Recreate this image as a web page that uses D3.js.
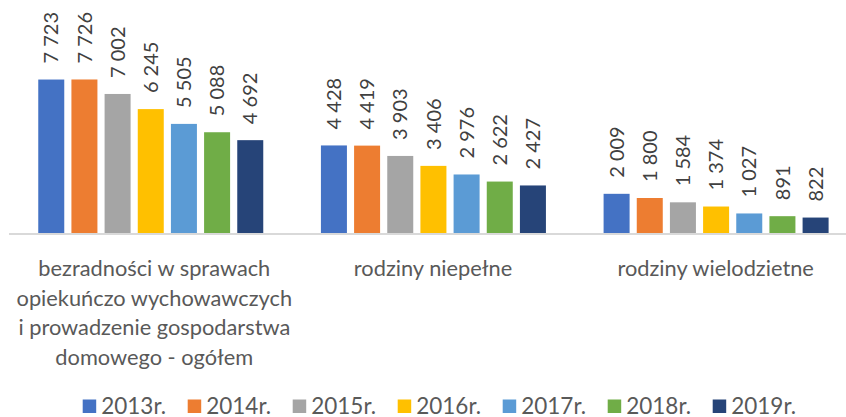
<!DOCTYPE html>
<html>
<head>
<meta charset="utf-8">
<script src="https://cdn.jsdelivr.net/npm/d3@7"></script>
<style>
  body { margin: 0; background: #fff; }
  svg { display: block; font-family: Lato, "Open Sans", sans-serif; }
</style>
</head>
<body>
<div id="chart"></div>
<script>
// categories (each one split in lines like in the original)
const categories = [
    ['bezradności w sprawach', 'opiekuńczo wychowawczych', 'i prowadzenie gospodarstwa', 'domowego - ogółem'],
    ['rodziny niepełne'],
    ['rodziny wielodzietne']
];
const years = ['2013r.', '2014r.', '2015r.', '2016r.', '2017r.', '2018r.', '2019r.'];
const colors = ['#4472C4', '#ED7D31', '#A5A5A5', '#FFC000', '#5B9BD5', '#70AD47', '#264478'];

// one array per category, one value per year
const bezradnosc = [7723, 7726, 7002, 6245, 5505, 5088, 4692];
const niepelne = [4428, 4419, 3903, 3406, 2976, 2622, 2427];
const wielodzietne = [2009, 1800, 1584, 1374, 1027, 891, 822];
const values = [bezradnosc, niepelne, wielodzietne];

const width = 846;
const height = 417;

const svg = d3.select('#chart')
    .append('svg')
        .attr('viewBox', [0, 0, width, height])
        .attr('width', width)
        .attr('height', height);

// outer scale for the categories
const x0 = d3.scaleBand()
    .domain(d3.range(categories.length))
    .range([9, 857])
    .padding(0);

// inner scale for the years inside one category
const x1 = d3.scaleBand()
    .domain(years)
    .range([x0.bandwidth() * 0.1035, x0.bandwidth() * 0.8995])
    .paddingInner(0.216)
    .paddingOuter(0);

const y = d3.scaleLinear()
    .domain([0, 9000])
    .range([234, 54]);

const fmt = v => d3.format(',')(v).replace(/,/g, ' ');

// bars
const groups = svg.append('g')
    .selectAll('g')
    .data(values)
    .join('g')
        .attr('transform', (d, i) => `translate(${x0(i)},0)`);

groups.selectAll('rect')
    .data(d => d.map((v, j) => ({ v: v, year: years[j], c: colors[j] })))
    .join('rect')
        .attr('x', d => x1(d.year))
        .attr('y', d => y(d.v))
        .attr('width', x1.bandwidth())
        .attr('height', d => y(0) - y(d.v))
        .attr('fill', d => d.c);

// rotated value labels
groups.selectAll('text')
    .data(d => d.map((v, j) => ({ v: v, year: years[j] })))
    .join('text')
        .attr('transform', d => `translate(${x1(d.year) + x1.bandwidth() / 2},${y(d.v) - 16}) rotate(-90)`)
        .attr('dy', '0.36em')
        .attr('fill', '#404040')
        .style('font-size', '20px')
        .text(d => fmt(d.v));

// base line
svg.append('line')
    .attr('x1', 9)
    .attr('x2', 846)
    .attr('y1', y(0))
    .attr('y2', y(0))
    .attr('stroke', '#d9d9d9')
    .attr('stroke-width', 2);

// category labels
const catLabels = svg.append('g')
    .attr('fill', '#595959')
    .style('font-size', '21.8px')
    .attr('text-anchor', 'middle');
categories.forEach((lines, i) => {
    const cx = x0(i) + x0.bandwidth() / 2 + (lines.length > 1 ? 4 : 0);
    const t = catLabels.append('text')
        .attr('x', cx)
        .attr('y', 276);
    t.selectAll('tspan')
        .data(lines)
        .join('tspan')
            .attr('x', cx)
            .attr('dy', (d, k) => k === 0 ? 0 : 29.5)
            .text(d => d);
});

// legend
const legend = svg.append('g')
    .selectAll('g')
    .data(years)
    .join('g')
        .attr('transform', (d, i) => `translate(${82.7 + i * 105},0)`);
legend.append('rect')
    .attr('x', 0)
    .attr('y', 399.5)
    .attr('width', 13.5)
    .attr('height', 13.5)
    .attr('fill', (d, i) => colors[i]);
legend.append('text')
    .attr('x', 18.5)
    .attr('y', 413.5)
    .attr('fill', '#595959')
    .style('font-size', '22.5px')
    .text(d => d);
</script>
</body>
</html>
